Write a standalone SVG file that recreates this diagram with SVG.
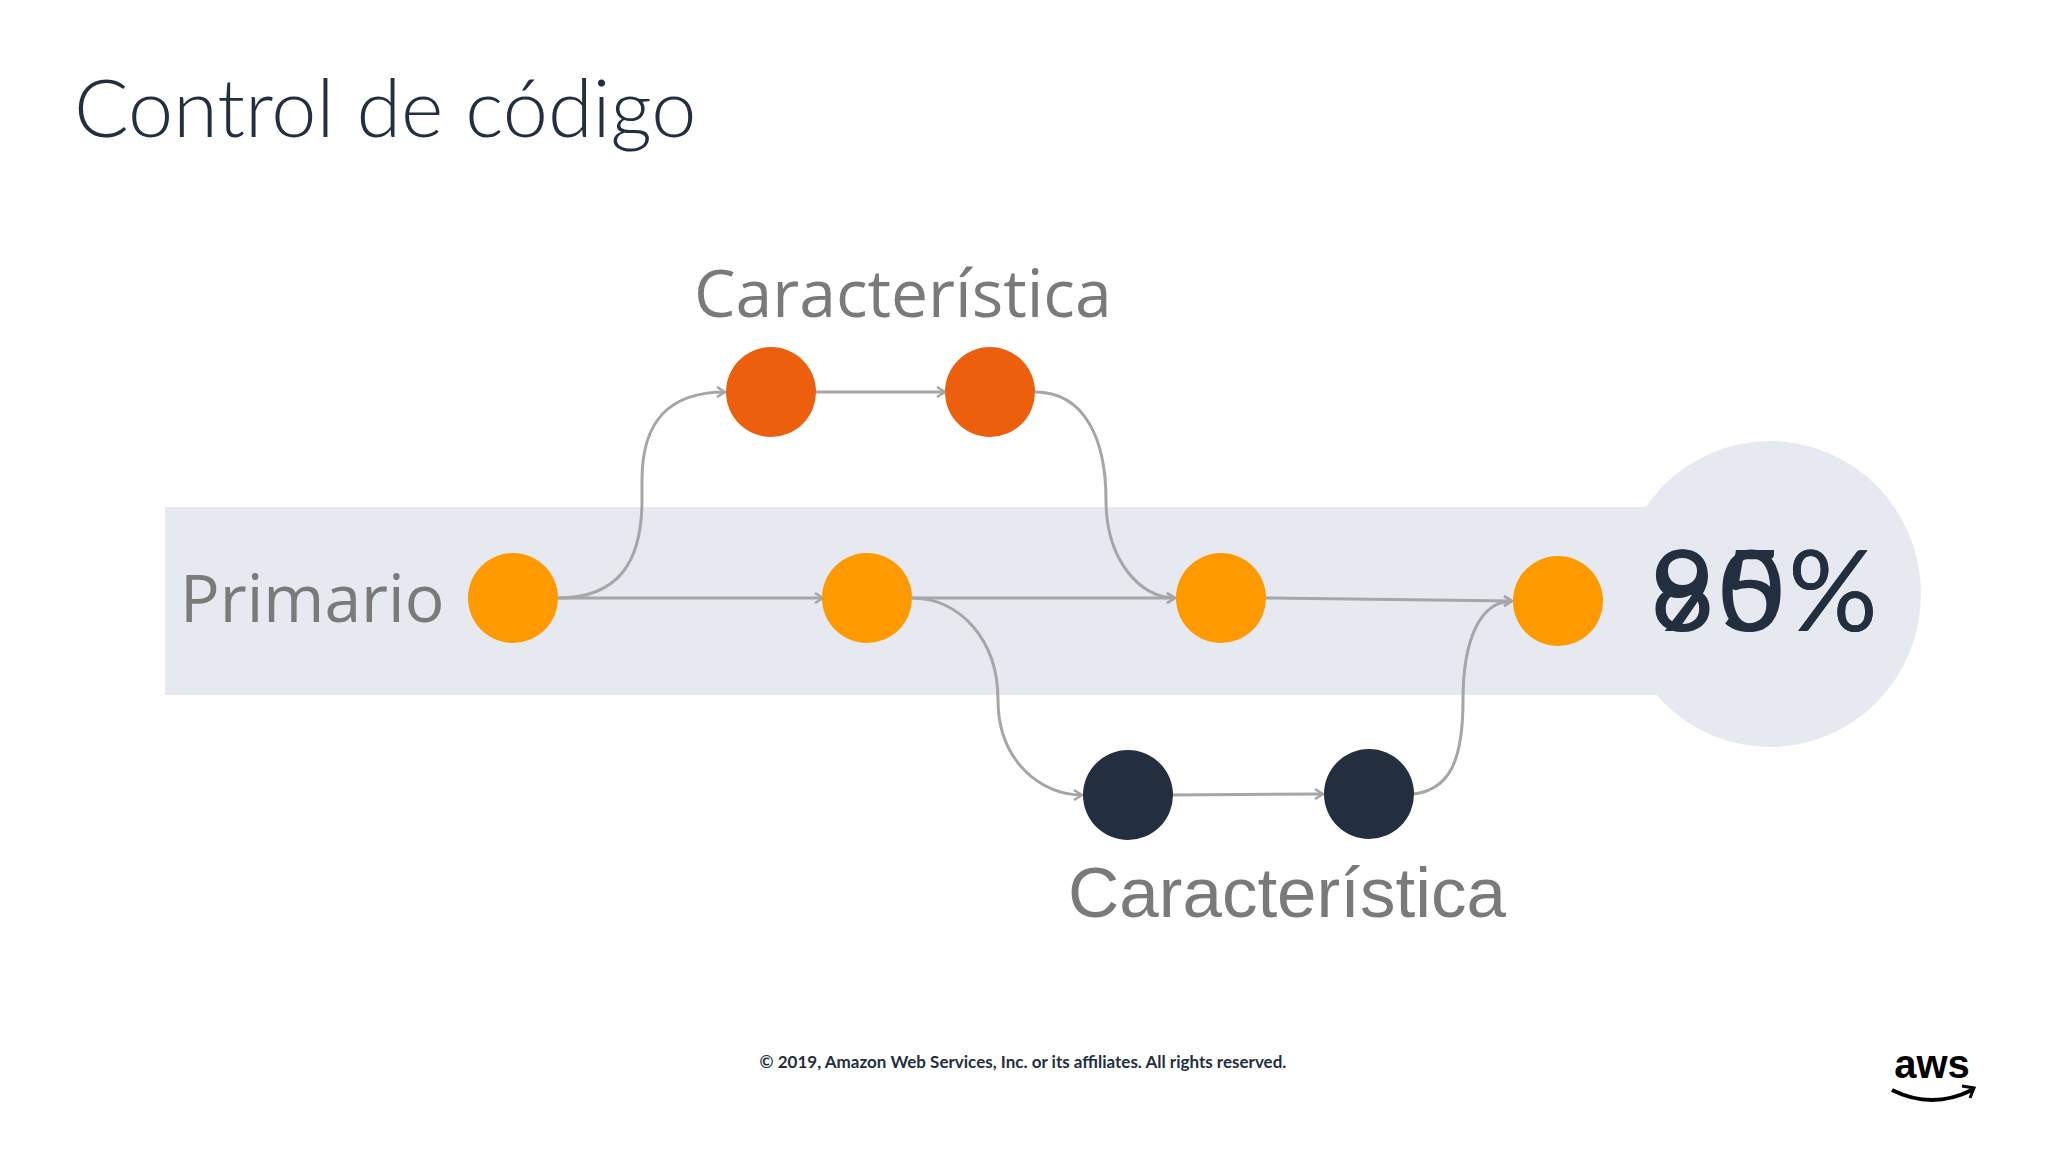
<svg xmlns="http://www.w3.org/2000/svg" width="2048" height="1152" viewBox="0 0 2048 1152">
<style>
.c{fill:none;stroke:#a6a6a8;stroke-width:3;marker-end:url(#a)}
.lbl{font-family:"Open Sans","Liberation Sans",sans-serif;fill:#7a7a7a}
</style>
<defs><marker id="a" markerWidth="12" markerHeight="12" refX="10" refY="6" orient="auto" markerUnits="userSpaceOnUse"><path d="M2,1 L10,6 L2,11" fill="none" stroke="#a6a6a8" stroke-width="2.5"/></marker></defs>
<rect width="2048" height="1152" fill="#fff"/>
<text x="74" y="137" font-family="Lato,'Open Sans',sans-serif" font-weight="300" font-size="81" fill="#232f3e">Control de código</text>
<g id="band"><rect x="165" y="507" width="1500" height="188" fill="#e6e9ef"/><ellipse cx="1770" cy="594" rx="151" ry="153" fill="#e6e9ef"/></g>
<g id="connectors">
<path class="c" d="M558,598 L823,598"/>
<path class="c" d="M558,598 C620,598 642,560 642,500 L642,480 C642,420 670,392 725,392"/>
<path class="c" d="M816,392 L945,392"/>
<path class="c" d="M1035,392 C1085,392 1106,440 1106,500 C1106,560 1140,598 1175,598"/>
<path class="c" d="M912,598 L1175,598"/>
<path class="c" d="M912,598 C960,598 998,640 998,700 C998,760 1040,795 1082,795"/>
<path class="c" d="M1173,795 L1323,794"/>
<path class="c" d="M1413,794 C1450,790 1463,760 1463,700 C1463,640 1480,601 1512,601"/>
<path class="c" d="M1266,598 L1512,601"/>
</g>
<g id="n1"><circle cx="513" cy="598" r="45" fill="#ff9900"/></g>
<g id="n2"><circle cx="867" cy="598" r="45" fill="#ff9900"/></g>
<g id="n3"><circle cx="1221" cy="598" r="45" fill="#ff9900"/></g>
<g id="n4"><circle cx="1558" cy="601" r="45" fill="#ff9900"/></g>
<g id="f1"><circle cx="771" cy="392" r="45" fill="#ec5f0c"/></g>
<g id="f2"><circle cx="990" cy="392" r="45" fill="#ec5f0c"/></g>
<g id="d1"><circle cx="1128" cy="795" r="45" fill="#232f3e"/></g>
<g id="d2"><circle cx="1369" cy="794" r="45" fill="#232f3e"/></g>
<text class="lbl" x="694" y="317" font-size="66">Característica</text>
<text class="lbl" x="180" y="622" font-size="66">Primario</text>
<text x="1068" y="917" font-family="'Liberation Sans',sans-serif" font-size="71" fill="#7a7a7a">Característica</text>
<g font-family="Lato,'Open Sans',sans-serif" font-size="112" fill="#232f3e" letter-spacing="4">
<text x="1650" y="631">85%</text><text x="1650" y="631">90%</text></g>
<text x="1023" y="1068" text-anchor="middle" font-family="Lato,'Liberation Sans',sans-serif" font-weight="bold" font-size="17" fill="#232f3e">© 2019, Amazon Web Services, Inc. or its affiliates. All rights reserved.</text>
<g id="aws"><text x="1932" y="1078" text-anchor="middle" font-family="'Liberation Sans',sans-serif" font-weight="bold" font-size="40" fill="#000">aws</text>
<path d="M1892,1090 Q1932,1110 1972,1090" fill="none" stroke="#000" stroke-width="4"/><path d="M1962,1086 L1974,1088 L1970,1098" fill="none" stroke="#000" stroke-width="3"/></g>
</svg>
